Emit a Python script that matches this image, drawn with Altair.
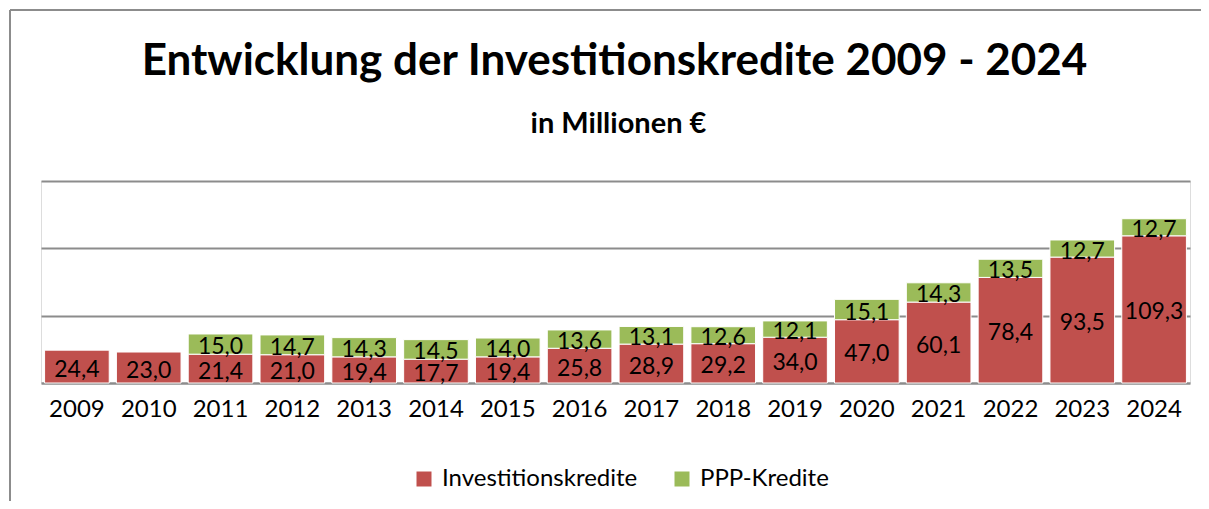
import altair as alt
import pandas as pd

years = [str(y) for y in range(2009, 2025)]
invest = [24.4, 23.0, 21.4, 21.0, 19.4, 17.7, 19.4, 25.8, 28.9, 29.2, 34.0, 47.0, 60.1, 78.4, 93.5, 109.3]
ppp = [None, None, 15.0, 14.7, 14.3, 14.5, 14.0, 13.6, 13.1, 12.6, 12.1, 15.1, 14.3, 13.5, 12.7, 12.7]
series = ["Investitionskredite", "PPP-Kredite"]
colors = ["#C0504D", "#9BBB59"]
title_text = "Entwicklung der Investitionskredite 2009 - 2024"
subtitle_text = "in Millionen €"

rows = []
for y, a, b in zip(years, invest, ppp):
    rows.append({"Jahr": y, "Serie": series[0], "Wert": a, "y0": 0.0, "y1": a})
    if b is not None:
        rows.append({"Jahr": y, "Serie": series[1], "Wert": b, "y0": a, "y1": a + b})
df = pd.DataFrame(rows)

FONT = "Lato"
W, H = 1149, 202

xenc = alt.X("Jahr:N", sort=years, title=None,
             scale=alt.Scale(paddingInner=0.1, paddingOuter=0.05),
             axis=alt.Axis(labelAngle=0, labelFontSize=24, labelFont=FONT, labelColor="black",
                           labelPadding=14, ticks=False, domainColor="#8C8C8C", domainWidth=2.5))

base = alt.Chart(df)

bars = base.mark_bar(stroke="white", strokeWidth=1).encode(
    x=xenc,
    y=alt.Y("y0:Q", scale=alt.Scale(domain=[0, 150], nice=False), title=None,
            axis=alt.Axis(values=[50, 100, 150], labels=False, ticks=False, domain=False,
                          grid=True, gridColor="#8C8C8C", gridWidth=2)),
    y2="y1:Q",
    color=alt.Color("Serie:N", scale=alt.Scale(domain=series, range=colors),
                    legend=alt.Legend(title=None, orient="none", legendX=371, legendY=286,
                                      direction="horizontal", symbolType="square", symbolSize=225,
                                      symbolStrokeWidth=0, labelFontSize=24, labelFont=FONT,
                                      labelColor="black", columnPadding=32, labelOffset=6,
                                      labelLimit=0)),
)

labels = base.transform_calculate(
    mid="(datum.y0 + datum.y1) / 2",
    txt="replace(format(datum.Wert, '.1f'), '.', ',')",
).mark_text(fontSize=23, font=FONT, color="black", baseline="middle", dy=3).encode(
    x=alt.X("Jahr:N", sort=years),
    y=alt.Y("mid:Q"),
    text="txt:N",
)

one = pd.DataFrame({"k": [0]})
left_border = alt.Chart(one).mark_rule(color="#8C8C8C", strokeWidth=2).encode(
    x=alt.value(-31), y=alt.value(-171), y2=alt.value(330))
top_border = alt.Chart(one).mark_rule(color="#8C8C8C", strokeWidth=2).encode(
    x=alt.value(-31), x2=alt.value(1170), y=alt.value(-171))

title_mark = alt.Chart(pd.DataFrame({"t": [title_text]})).mark_text(
    font=FONT, fontSize=44, fontWeight="bold", color="black", align="center", baseline="alphabetic"
).encode(x=alt.value(W / 2 - 1), y=alt.value(-106), text="t:N")
subtitle_mark = alt.Chart(pd.DataFrame({"t": [subtitle_text]})).mark_text(
    font=FONT, fontSize=29, fontWeight="bold", color="black", align="center", baseline="alphabetic"
).encode(x=alt.value(W / 2 + 3), y=alt.value(-48), text="t:N")

chart = alt.layer(bars, labels, left_border, top_border, title_mark, subtitle_mark).properties(
    width=W, height=H,
    autosize=alt.AutoSizeParams(type="none"),
    padding={"left": 33, "top": 173, "right": 11, "bottom": 118},
).configure_view(stroke=None).configure(background="white")

chart.save("out.html", embed_options={"renderer": "svg", "actions": False})
